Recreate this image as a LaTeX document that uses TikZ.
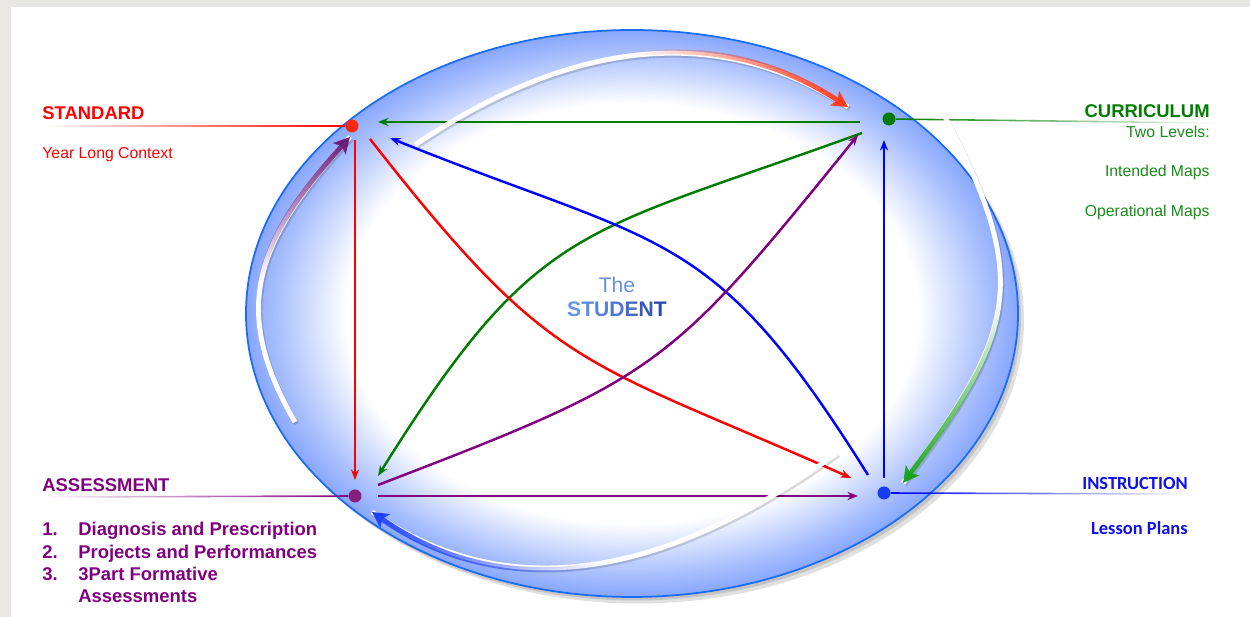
\documentclass[tikz,border=0pt]{standalone}
\usepackage{fontspec}
\setmainfont{Liberation Sans}
\newfontfamily\calibfont{Carlito}
\usetikzlibrary{arrows.meta,fadings}

\definecolor{paper}{RGB}{233,231,225}
\definecolor{rimblue}{RGB}{26,108,245}
\definecolor{glowblue}{RGB}{100,140,252}
\definecolor{stdred}{RGB}{255,0,0}
\definecolor{stddot}{RGB}{255,40,10}
\definecolor{curgreen}{RGB}{0,125,0}
\definecolor{curtext}{RGB}{25,140,25}
\definecolor{asspurple}{RGB}{128,0,128}
\definecolor{assdot}{RGB}{135,30,125}
\definecolor{insblue}{RGB}{0,0,255}
\definecolor{insdot}{RGB}{25,60,245}
\definecolor{instext}{RGB}{15,15,235}
\definecolor{loopred}{RGB}{255,55,25}
\definecolor{loopgreen}{RGB}{25,160,25}
\definecolor{loopblue}{RGB}{30,65,255}
\definecolor{looppurple}{RGB}{105,25,120}
\definecolor{thecol}{RGB}{105,145,225}

\pgfdeclareradialshading{glow}{\pgfpoint{0bp}{0bp}}{color(0bp)=(white); color(18.5bp)=(white); color(23bp)=(glowblue!55!white); color(26bp)=(glowblue!88!white); color(28bp)=(glowblue); color(72bp)=(glowblue)}

\tikzfading[name=fadeleft, left color=transparent!100, right color=transparent!0]
\tikzfading[name=faderight, left color=transparent!0, right color=transparent!100]
\tikzfading[name=rampright, left color=transparent!100, right color=transparent!0, middle color=transparent!100]
\tikzfading[name=rampleft, left color=transparent!0, right color=transparent!100, middle color=transparent!100]
\tikzfading[name=rampdown, top color=transparent!100, bottom color=transparent!0, middle color=transparent!100]
\tikzfading[name=rampup, top color=transparent!0, bottom color=transparent!100, middle color=transparent!100]

\begin{document}
\begin{tikzpicture}[x=0.02cm,y=0.02cm,>={Stealth[length=6pt,width=4.6pt]},
    dot/.style={circle,inner sep=0pt,minimum size=7.4pt},
    link/.style={->,line width=1.4pt},
    lead/.style={line width=0.9pt},
    looparc/.style={line width=2.8pt},
    head/.style={-{Stealth[length=9pt,width=9.5pt,inset=2pt]}},
    title/.style={inner sep=0pt,font=\fontsize{10.5}{12}\selectfont\bfseries},
    note/.style={inner sep=0pt,font=\fontsize{9}{11}\selectfont}]

    \useasboundingbox (0,0) rectangle (1250,617);
    \fill[paper] (0,0) rectangle (1250,617);
    \fill[white] (11,0) rectangle (1250,610);

    % the ball
    \fill[black,opacity=0.12] (638,297) ellipse [x radius=386,y radius=283.5];
    \fill[black,opacity=0.12] (635,300) ellipse [x radius=386,y radius=283.5];
    \shade[shading=glow] (632,303.5) ellipse [x radius=386,y radius=283.5];
    \draw[rimblue,line width=1pt] (632,303.5) ellipse [x radius=386,y radius=283.5];

    \node[dot,fill=stddot] (std) at (352,491) {};
    \node[dot,fill=curgreen] (cur) at (889,498) {};
    \node[dot,fill=assdot] (ass) at (355,121) {};
    \node[dot,fill=insdot] (ins) at (884,124) {};

    \coordinate (stdtail) at (45,491);
    \coordinate (curtail) at (1215,494);
    \coordinate (asstail) at (45,120);
    \coordinate (instail) at (1190,123);

    \draw[lead,stdred,path fading=fadeleft] (std) -- (stdtail);
    \draw[lead,curgreen,path fading=faderight] (cur) -- (curtail);
    \draw[lead,asspurple,path fading=fadeleft] (ass) -- (asstail);
    \draw[lead,insblue,path fading=faderight] (ins) -- (instail);

    % links between the four
    \draw[link,curgreen] ([shift={(-29,-3)}]cur.center) -- ([shift={(26,4)}]std.center);
    \draw[link,curgreen] ([shift={(-27,-14)}]cur.center) to[out=200,in=58,looseness=1.3] ([shift={(23,20)}]ass.center);
    \draw[link,stdred] ([shift={(3,-14)}]std.center) -- ([shift={(0,16)}]ass.center);
    \draw[link,stdred] ([shift={(18,-13)}]std.center) to[out=-52,in=156,looseness=1.3] ([shift={(-33,15)}]ins.center);
    \draw[link,insblue] ([shift={(-16,18)}]ins.center) to[out=122,in=-22,looseness=1.3] ([shift={(38,-12)}]std.center);
    \draw[link,insblue] ([shift={(0,15)}]ins.center) -- ([shift={(-5,-21)}]cur.center);
    \draw[link,asspurple] ([shift={(23,11)}]ass.center) to[out=21,in=231,looseness=1.3] ([shift={(-31,-16)}]cur.center);
    \draw[link,asspurple] ([shift={(23,0)}]ass.center) -- ([shift={(-26,-3)}]ins.center);

    % the cycle round the rim
    \coordinate (topfrom) at (415,472);
    \coordinate (topto) at (848,510);
    \coordinate (rightfrom) at (943,504);
    \coordinate (rightto) at (903,134);
    \coordinate (botfrom) at (837,164);
    \coordinate (botto) at (372,105);
    \coordinate (leftfrom) at (295,195);
    \coordinate (leftto) at (350,480);

    \foreach \a/\b/\o/\i/\l/\c/\f in {topfrom/topto/34/147/1/loopred/rampright,
        rightfrom/rightto/-62/53/1.3/loopgreen/rampdown,
        botfrom/botto/216/-35/1/loopblue/rampleft,
        leftfrom/leftto/120/228/1.2/looppurple/rampup} {
      \draw[looparc,black,opacity=0.15,transform canvas={shift={(1.5,-2)}}] (\a) to[out=\o,in=\i,looseness=\l] (\b);
      \draw[looparc,white] (\a) to[out=\o,in=\i,looseness=\l] (\b);
      \draw[looparc,head,\c,path fading=\f] (\a) to[out=\o,in=\i,looseness=\l] (\b);
    }

    % texts
    \node[title,stdred,anchor=base west] (stdname) at (42,497) {STANDARD};
    \node[note,stdred,anchor=base west] (stdnote) at (42,458) {Year Long Context};

    \node[title,curgreen,anchor=base east] (curname) at (1210,499) {CURRICULUM};
    \node[note,curtext,anchor=base east] (curnote) at (1210,479) {Two Levels:};
    \node[note,curtext,anchor=base east] (curmapa) at (1210,440) {Intended Maps};
    \node[note,curtext,anchor=base east] (curmapb) at (1210,400) {Operational Maps};

    \node[title,asspurple,anchor=base west] (assname) at (42,125) {ASSESSMENT};
    \foreach \n/\t/\y in {1/Diagnosis and Prescription/81,2/Projects and Performances/58,3/3Part Formative/36} {
      \node[title,asspurple,anchor=base west] (assnum\n) at (42,\y) {\n.};
      \node[title,asspurple,anchor=base west] (assitem\n) at (78,\y) {\t};
    }
    \node[title,asspurple,anchor=base west] (assitem4) at (78,14) {Assessments};

    \node[title,instext,anchor=base east,font=\calibfont\fontsize{10.5}{12}\selectfont\bfseries] (insname) at (1188,127) {INSTRUCTION};
    \node[title,instext,anchor=base east,font=\calibfont\fontsize{10.5}{12}\selectfont\bfseries] (insnote) at (1188,82) {Lesson Plans};

    \node[inner sep=0pt,anchor=base,thecol,font=\fontsize{12}{14}\selectfont] (the) at (617,324) {The};
    \node[inner sep=0pt,anchor=base,font=\fontsize{12}{14}\selectfont\bfseries] (student) at (617,300)
      {\textcolor[RGB]{100,150,235}{S}\textcolor[RGB]{95,140,230}{T}\textcolor[RGB]{88,130,222}{U}\textcolor[RGB]{80,118,212}{D}\textcolor[RGB]{70,105,200}{E}\textcolor[RGB]{58,90,185}{N}\textcolor[RGB]{45,75,165}{T}};
\end{tikzpicture}
\end{document}
